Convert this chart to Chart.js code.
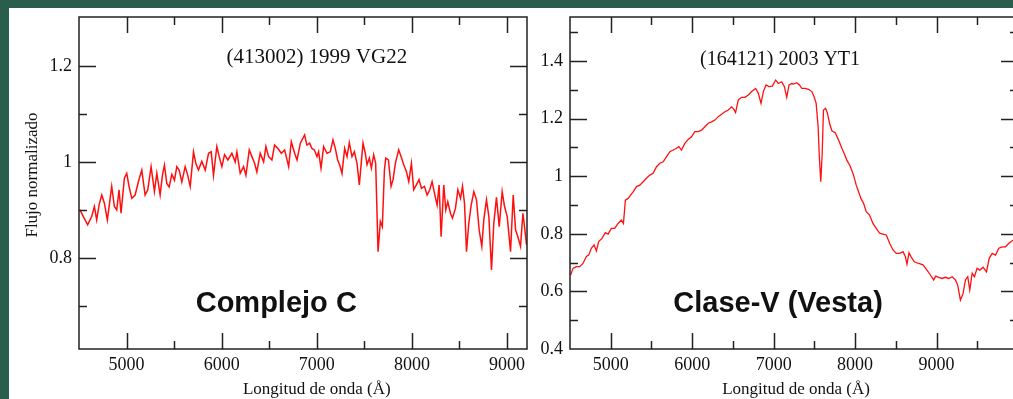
<!DOCTYPE html>
<html>
<head>
<meta charset="utf-8">
<script src="https://cdn.jsdelivr.net/npm/chart.js@4.4.0/dist/chart.umd.min.js"></script>
<style>
  html, body { margin: 0; padding: 0; }
  body { width: 1013px; height: 399px; overflow: hidden; background: #2a5e4c; position: relative; }
  #sheet { position: absolute; left: 9px; top: 8px; width: 1004px; height: 391px; background: #fff; }
  .panel { position: absolute; top: 8px; }
  #left { left: 9px; }
  #right { left: 537px; }
</style>
</head>
<body>
<div id="sheet"></div>
<div class="panel" id="left"><canvas id="c1" width="528" height="391"></canvas></div>
<div class="panel" id="right"><canvas id="c2" width="491" height="391"></canvas></div>
<script>
// (413002) 1999 VG22 - complejo C
const leftWave = [4510, 4546, 4591, 4633, 4662, 4686, 4711, 4739, 4767, 4798, 4844, 4872, 4897, 4921, 4942, 4977,
  5002, 5026, 5055, 5090, 5125, 5160, 5195, 5223, 5258, 5293, 5318, 5353, 5377, 5398, 5423, 5448, 5476, 5504,
  5528, 5553, 5581, 5616, 5641, 5669, 5704, 5728, 5756, 5791, 5827, 5862, 5890, 5914, 5949, 5974, 6002, 6030,
  6065, 6107, 6142, 6160, 6195, 6230, 6255, 6290, 6318, 6346, 6370, 6405, 6441, 6465, 6493, 6528, 6556, 6592,
  6627, 6662, 6704, 6732, 6767, 6792, 6827, 6872, 6896, 6925, 6949, 6974, 7002, 7019, 7044, 7072, 7107, 7142,
  7170, 7195, 7219, 7240, 7265, 7293, 7318, 7342, 7370, 7395, 7423, 7447, 7486, 7510, 7528, 7553, 7574, 7598,
  7619, 7644, 7668, 7689, 7711, 7725, 7753, 7781, 7802, 7826, 7861, 7886, 7914, 7942, 7967, 7995, 8019, 8047,
  8075, 8100, 8132, 8160, 8188, 8212, 8237, 8265, 8286, 8307, 8335, 8356, 8377, 8405, 8426, 8458, 8483, 8511,
  8532, 8553, 8574, 8598, 8623, 8651, 8679, 8707, 8735, 8756, 8784, 8809, 8837, 8861, 8889, 8918, 8949, 8974,
  9002, 9037, 9065, 9090, 9114, 9142, 9167, 9184, 9205];
const leftFlux = [0.900, 0.886, 0.869, 0.886, 0.907, 0.879, 0.910, 0.931, 0.914, 0.879, 0.949, 0.907, 0.900, 0.942, 0.893, 0.966,
  0.976, 0.949, 0.924, 0.931, 0.959, 0.983, 0.931, 0.942, 0.990, 0.938, 0.976, 0.931, 0.972, 0.993, 0.955, 0.948, 0.974, 0.962,
  0.990, 0.983, 0.958, 0.990, 0.974, 0.949, 1.021, 0.997, 0.983, 1.001, 0.983, 1.018, 1.021, 0.972, 1.032, 1.011, 0.990, 1.015,
  1.004, 1.018, 1.000, 1.021, 0.976, 0.990, 0.972, 1.025, 1.011, 0.997, 0.979, 1.018, 1.000, 1.032, 1.011, 1.004, 1.035, 1.028,
  1.018, 1.025, 0.990, 1.042, 1.018, 1.004, 1.039, 1.056, 1.035, 1.039, 1.028, 1.025, 1.011, 1.021, 0.987, 1.032, 1.018, 1.021,
  1.046, 1.028, 1.004, 0.994, 0.976, 1.028, 1.011, 1.040, 1.011, 1.021, 0.997, 0.952, 1.039, 1.018, 0.994, 1.008, 0.987, 1.015,
  0.997, 0.813, 0.876, 0.865, 0.983, 1.008, 1.004, 0.949, 0.963, 0.997, 1.025, 1.011, 0.994, 0.980, 0.959, 0.997, 0.942, 0.952,
  0.963, 0.945, 0.949, 0.931, 0.942, 0.959, 0.935, 0.910, 0.952, 0.844, 0.952, 0.900, 0.917, 0.893, 0.883, 0.903, 0.942, 0.924,
  0.949, 0.914, 0.813, 0.872, 0.910, 0.938, 0.921, 0.858, 0.824, 0.879, 0.921, 0.886, 0.775, 0.872, 0.926, 0.865, 0.938, 0.907,
  0.886, 0.813, 0.931, 0.858, 0.844, 0.824, 0.893, 0.865, 0.827];

// (164121) 2003 YT1 - clase V
const rightWave = [4508, 4537, 4578, 4619, 4660, 4701, 4729, 4762, 4795, 4824, 4852, 4893, 4934, 4967, 5008, 5049,
  5090, 5131, 5156, 5180, 5213, 5246, 5275, 5316, 5357, 5398, 5439, 5480, 5521, 5562, 5603, 5644, 5685, 5726,
  5767, 5808, 5836, 5869, 5910, 5951, 5992, 6033, 6074, 6115, 6156, 6197, 6238, 6279, 6320, 6361, 6402, 6443,
  6484, 6513, 6533, 6566, 6607, 6648, 6689, 6730, 6779, 6812, 6845, 6874, 6907, 6943, 6984, 7025, 7058, 7099,
  7132, 7161, 7189, 7222, 7243, 7284, 7317, 7346, 7387, 7428, 7469, 7497, 7522, 7546, 7563, 7579, 7596, 7612,
  7637, 7661, 7686, 7715, 7756, 7797, 7838, 7866, 7899, 7940, 7981, 8014, 8043, 8071, 8104, 8137, 8178, 8219,
  8260, 8301, 8342, 8383, 8424, 8465, 8506, 8547, 8588, 8617, 8637, 8662, 8686, 8727, 8781, 8834, 8883, 8924,
  8965, 8990, 9027, 9068, 9109, 9150, 9191, 9232, 9260, 9293, 9326, 9355, 9383, 9408, 9437, 9465, 9498, 9531,
  9572, 9613, 9646, 9683, 9724, 9765, 9806, 9847, 9888, 9929, 9955];
const rightFlux = [0.657, 0.680, 0.686, 0.686, 0.697, 0.721, 0.726, 0.750, 0.761, 0.741, 0.773, 0.784, 0.804, 0.799, 0.819, 0.819,
  0.836, 0.848, 0.836, 0.917, 0.923, 0.935, 0.946, 0.964, 0.969, 0.981, 0.993, 1.004, 1.010, 1.033, 1.045, 1.050, 1.068, 1.085,
  1.091, 1.097, 1.103, 1.091, 1.114, 1.128, 1.137, 1.155, 1.155, 1.160, 1.172, 1.184, 1.189, 1.195, 1.207, 1.215, 1.224, 1.230,
  1.241, 1.232, 1.221, 1.265, 1.274, 1.274, 1.282, 1.294, 1.305, 1.288, 1.253, 1.294, 1.317, 1.311, 1.313, 1.334, 1.322, 1.328,
  1.311, 1.274, 1.317, 1.322, 1.320, 1.325, 1.317, 1.305, 1.305, 1.302, 1.294, 1.276, 1.253, 1.172, 1.056, 0.981, 1.079, 1.230,
  1.236, 1.218, 1.184, 1.158, 1.151, 1.126, 1.097, 1.079, 1.056, 1.035, 1.004, 0.969, 0.946, 0.923, 0.906, 0.877, 0.865, 0.836,
  0.819, 0.802, 0.799, 0.796, 0.767, 0.744, 0.732, 0.732, 0.738, 0.721, 0.695, 0.734, 0.721, 0.703, 0.697, 0.692, 0.674, 0.657,
  0.640, 0.653, 0.649, 0.645, 0.649, 0.645, 0.651, 0.640, 0.622, 0.570, 0.593, 0.640, 0.651, 0.605, 0.663, 0.651, 0.680, 0.674,
  0.684, 0.668, 0.715, 0.732, 0.726, 0.750, 0.755, 0.755, 0.767, 0.776, 0.780];

// ticks
const xMajor = [5000, 6000, 7000, 8000, 9000];
const xMinor = [5500, 6500, 7500, 8500, 9500];
const leftYMajor = [0.8, 1, 1.2];
const leftYMinor = [0.7, 0.9, 1.1];
const rightYMajor = [0.4, 0.6, 0.8, 1, 1.2, 1.4];
const rightYMinor = [0.5, 0.7, 0.9, 1.1, 1.3, 1.5];

const SERIF = '"Liberation Serif", "Times New Roman", serif';
const SANS = '"Liberation Sans", Arial, sans-serif';
Chart.defaults.font.family = SERIF;
Chart.defaults.color = '#111';

function points(xs, ys) {
  return xs.map((v, i) => ({x: v, y: ys[i]}));
}

// grace-like box: frame, inward ticks on all sides, text labels
const framePlugin = {
  id: 'frame',
  afterDraw(chart, args, o) {
    const {ctx, chartArea: a, scales: {x, y}} = chart;
    ctx.save();
    ctx.strokeStyle = '#222';
    ctx.lineWidth = 1.5;
    ctx.strokeRect(a.left, a.top, a.right - a.left, a.bottom - a.top);
    ctx.beginPath();
    const xt = (vals, len) => vals.forEach(v => {
      const px = Math.round(x.getPixelForValue(v)) + 0.5;
      if (px < a.left || px > a.right) return;
      ctx.moveTo(px, a.bottom); ctx.lineTo(px, a.bottom - len);
      ctx.moveTo(px, a.top); ctx.lineTo(px, a.top + len);
    });
    const yt = (vals, len) => vals.forEach(v => {
      const py = Math.round(y.getPixelForValue(v)) + 0.5;
      if (py < a.top || py > a.bottom) return;
      ctx.moveTo(a.left, py); ctx.lineTo(a.left + len, py);
      ctx.moveTo(a.right, py); ctx.lineTo(a.right - len, py);
    });
    xt(xMajor, 16); xt(xMinor, 8);
    yt(o.yMajor, 17); yt(o.yMinor, 8);
    ctx.stroke();

    ctx.fillStyle = '#111';
    ctx.textAlign = 'center';
    ctx.textBaseline = 'middle';
    ctx.font = o.titleSize + 'px ' + SERIF;
    ctx.fillText(o.title, x.getPixelForValue(o.titleAt[0]), y.getPixelForValue(o.titleAt[1]));
    ctx.font = 'bold 29px ' + SANS;
    ctx.fillText(o.tag, x.getPixelForValue(o.tagAt[0]), y.getPixelForValue(o.tagAt[1]));
    ctx.font = '17px ' + SERIF;
    ctx.fillText('Longitud de onda (Å)', x.getPixelForValue(o.xTitleAt), a.bottom + 41);
    if (o.yTitle) {
      ctx.translate(24, 167);
      ctx.rotate(-Math.PI / 2);
      ctx.fillText(o.yTitle, 0, 0);
    }
    ctx.restore();
  }
};

function makeChart(id, wave, flux, cfg) {
  return new Chart(document.getElementById(id), {
    type: 'line',
    data: {
      datasets: [{
        data: points(wave, flux),
        borderColor: '#ff1010',
        borderWidth: cfg.lineWidth,
        pointRadius: 0,
        tension: 0
      }]
    },
    options: {
      responsive: false,
      animation: false,
      devicePixelRatio: 1,
      layout: {padding: {top: 9, right: 10, left: 0, bottom: 0}},
      plugins: {legend: {display: false}, tooltip: {enabled: false}, frame: cfg.frame},
      scales: {
        x: {
          type: 'linear', min: 4500, max: cfg.xMax,
          grid: {display: false, drawTicks: false},
          border: {display: false},
          afterBuildTicks: s => { s.ticks = xMajor.filter(v => v < cfg.xMax).map(v => ({value: v})); },
          afterFit: s => { s.height = 50; s.paddingLeft = 0; s.paddingRight = 0; },
          ticks: {font: {size: 18}, padding: 5, maxRotation: 0, autoSkip: false, callback: v => String(v)}
        },
        y: {
          min: cfg.yMin, max: cfg.yMax,
          grid: {display: false, drawTicks: false},
          border: {display: false},
          afterBuildTicks: s => { s.ticks = cfg.frame.yMajor.map(v => ({value: v})); },
          afterFit: s => { s.width = cfg.yWidth; s.paddingTop = 0; s.paddingBottom = 0; },
          ticks: {font: {size: 18}, padding: 7, autoSkip: false, callback: v => String(v)}
        }
      }
    },
    plugins: [framePlugin]
  });
}

makeChart('c1', leftWave, leftFlux, {
  xMax: 9210, yMin: 0.61, yMax: 1.302, yWidth: 70, lineWidth: 1.5,
  frame: {
    yMajor: leftYMajor, yMinor: leftYMinor,
    title: '(413002) 1999 VG22', titleAt: [7000, 1.217], titleSize: 21,
    tag: 'Complejo C', tagAt: [6574, 0.704],
    xTitleAt: 7000, yTitle: 'Flujo normalizado'
  }
});

makeChart('c2', rightWave, rightFlux, {
  xMax: 10000, yMin: 0.4, yMax: 1.553, yWidth: 33, lineWidth: 1.3,
  frame: {
    yMajor: rightYMajor, yMinor: rightYMinor,
    title: '(164121) 2003 YT1', titleAt: [7079, 1.403], titleSize: 20,
    tag: 'Clase-V (Vesta)', tagAt: [7054, 0.556],
    xTitleAt: 7275, yTitle: null
  }
});
</script>
</body>
</html>
